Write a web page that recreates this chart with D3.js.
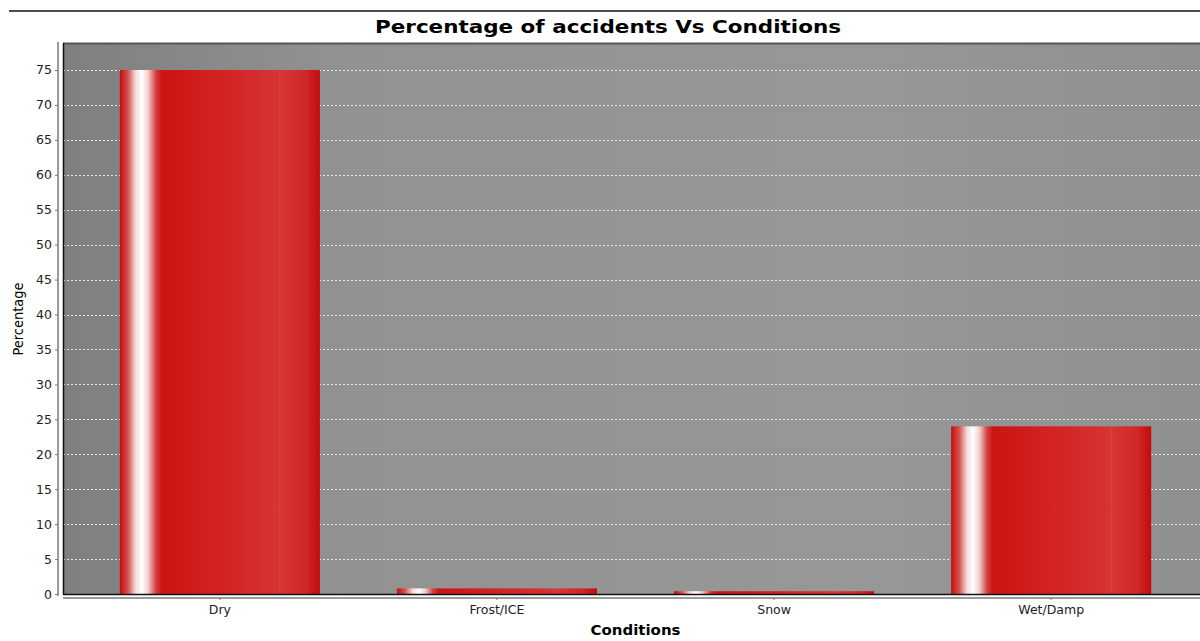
<!DOCTYPE html>
<html>
<head>
<meta charset="utf-8">
<script src="https://cdn.jsdelivr.net/npm/d3@7"></script>
<style>
  html, body { margin: 0; padding: 0; background: #fff; }
  svg { display: block; }
  text { font-family: "DejaVu Sans", Verdana, sans-serif; }
</style>
</head>
<body>
<svg id="chart" width="1200" height="641"></svg>
<script>
// Road surface conditions and the share of accidents on each
const categories = ["Dry", "Frost/ICE", "Snow", "Wet/Damp"];
const percentages = [75.0, 0.8, 0.4, 24.0];
const yTicks = [0, 5, 10, 15, 20, 25, 30, 35, 40, 45, 50, 55, 60, 65, 70, 75];

const svg = d3.select("#chart");
const W = 1200, H = 641;
const plot = { left: 63, right: 1208, top: 44, bottom: 594 };

const defs = svg.append("defs");

// plot background: grey, darker on the left side
const bg = defs.append("linearGradient").attr("id", "plotBg")
  .attr("x1", "0").attr("y1", "0").attr("x2", "1").attr("y2", "0");
bg.append("stop").attr("offset", "0").attr("stop-color", "#7f7f7f");
bg.append("stop").attr("offset", "0.25").attr("stop-color", "#929292");
bg.append("stop").attr("offset", "0.7").attr("stop-color", "#979797");
bg.append("stop").attr("offset", "1").attr("stop-color", "#8f8f8f");

// bar fill: red with a bright highlight strip near the left edge
const bar = defs.append("linearGradient").attr("id", "barFill")
  .attr("x1", "0").attr("y1", "0").attr("x2", "1").attr("y2", "0");
[
  [0.00, "#c20d0d"], [0.04, "#d65050"], [0.08, "#f6dcdc"], [0.11, "#ffffff"],
  [0.14, "#f2d2d2"], [0.18, "#d44040"], [0.21, "#cc1414"], [0.50, "#d32222"],
  [0.795, "#d63434"], [0.80, "#d94444"], [0.805, "#d63636"], [0.93, "#d02828"],
  [1.00, "#c20b0b"]
].forEach(([o, c]) => bar.append("stop").attr("offset", o).attr("stop-color", c));

// thin rule across the top of the page
svg.append("line").attr("x1", 9).attr("x2", W).attr("y1", 11).attr("y2", 11)
  .attr("stroke", "#111").attr("stroke-width", 1.5);

// scales
const x = d3.scaleBand().domain(categories)
  .range([plot.left, plot.right]).paddingInner(0.278).paddingOuter(0.205);
const y = d3.scaleLinear().domain([0, 78.72]).range([plot.bottom, plot.top]);

// plot area
svg.append("rect")
  .attr("x", plot.left).attr("y", plot.top)
  .attr("width", plot.right - plot.left).attr("height", plot.bottom - plot.top)
  .attr("fill", "url(#plotBg)");

// dashed horizontal gridlines
svg.append("g").selectAll("line").data(yTicks.filter(d => d > 0)).join("line")
  .attr("x1", plot.left).attr("x2", plot.right)
  .attr("y1", d => Math.round(y(d)) + 0.5).attr("y2", d => Math.round(y(d)) + 0.5)
  .attr("stroke", "#e6e6e6").attr("stroke-width", 1)
  .attr("stroke-dasharray", "2,2");

// bars
svg.append("g").selectAll("rect").data(categories).join("rect")
  .attr("x", d => x(d))
  .attr("y", (d, i) => y(percentages[i]))
  .attr("width", x.bandwidth())
  .attr("height", (d, i) => plot.bottom - y(percentages[i]))
  .attr("fill", "url(#barFill)");

// plot outline: dark top edge, black left and bottom edges
svg.append("line").attr("x1", plot.left).attr("x2", plot.right)
  .attr("y1", plot.top - 0.5).attr("y2", plot.top - 0.5)
  .attr("stroke", "#555").attr("stroke-width", 2);
svg.append("line").attr("x1", plot.left + 0.5).attr("x2", plot.left + 0.5)
  .attr("y1", plot.top - 1).attr("y2", plot.bottom + 1)
  .attr("stroke", "#111").attr("stroke-width", 1.5);
svg.append("line").attr("x1", plot.left).attr("x2", plot.right)
  .attr("y1", plot.bottom + 0.5).attr("y2", plot.bottom + 0.5)
  .attr("stroke", "#111").attr("stroke-width", 1.5);

// y axis (offset a little to the left of the plot)
const yAxis = svg.append("g")
  .attr("transform", `translate(${plot.left - 5},0)`)
  .call(d3.axisLeft(y).tickValues(yTicks).tickSize(3).tickPadding(3).tickFormat(d3.format("d")));
yAxis.select(".domain").attr("stroke", "#9a9a9a").attr("stroke-width", 2)
  .attr("d", `M0,${plot.top - 2}V${plot.bottom + 2}`);
yAxis.selectAll(".tick line").attr("stroke", "#777");
yAxis.selectAll(".tick text").attr("fill", "#222").style("font-size", "12.5px");

// x axis (offset a little below the plot)
const xAxis = svg.append("g")
  .attr("transform", `translate(0,${plot.bottom + 4})`)
  .call(d3.axisBottom(x).tickSize(2).tickPadding(5));
xAxis.select(".domain").attr("stroke", "#9a9a9a").attr("stroke-width", 2)
  .attr("d", `M${plot.left},0H${plot.right}`);
xAxis.selectAll(".tick line").attr("stroke", "#777");
xAxis.selectAll(".tick text").attr("fill", "#222").style("font-size", "12.5px");

// title and axis labels
svg.append("text").attr("x", 608).attr("y", 33)
  .attr("text-anchor", "middle").style("font-size", "18px").style("font-weight", "bold")
  .attr("textLength", 466).attr("lengthAdjust", "spacingAndGlyphs")
  .attr("fill", "#000")
  .text("Percentage of accidents Vs Conditions");

svg.append("text").attr("x", (plot.left + plot.right) / 2).attr("y", 635)
  .attr("text-anchor", "middle").style("font-size", "13.5px").style("font-weight", "bold")
  .attr("textLength", 90).attr("lengthAdjust", "spacingAndGlyphs")
  .attr("fill", "#000")
  .text("Conditions");

svg.append("text")
  .attr("transform", `translate(23,${(plot.top + plot.bottom) / 2}) rotate(-90)`)
  .attr("text-anchor", "middle").style("font-size", "14px")
  .style("font-family", "'DejaVu Sans Condensed', 'DejaVu Sans', sans-serif")
  .attr("textLength", 73).attr("lengthAdjust", "spacingAndGlyphs")
  .attr("fill", "#000")
  .text("Percentage");
</script>
</body>
</html>
